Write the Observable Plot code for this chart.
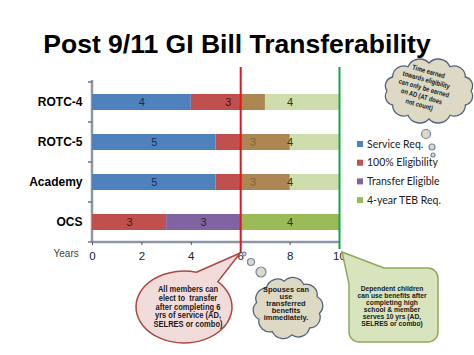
<!DOCTYPE html>
<html><head><meta charset="utf-8">
<script src="https://cdn.jsdelivr.net/npm/d3@7"></script>
<script src="https://cdn.jsdelivr.net/npm/@observablehq/plot@0.6"></script>
<style>body{margin:0;background:#fff} svg{display:block}</style>
</head><body><div id="chart"></div>
<script>
// ---- data ----
const categories = ["ROTC-4", "ROTC-5", "Academy", "OCS"];
const seriesNames = ["Service Req.", "100% Eligibility", "Transfer Eligible", "4-year TEB Req."];
const serviceReq = [4, 5, 5, 0];
const eligibility = [3, 3, 3, 3];
const transferEligible = [0, 0, 0, 3];
const tebStart = [6, 6, 6, 6];
const tebReq = [4, 4, 4, 4];
const xTicks = [0, 2, 4, 6, 8, 10];
const transferYear = 6;
const dependentYear = 10;
const titleText = "Post 9/11 GI Bill Transferability";
const axisLabel = "Years";
const noteTop = ["Time earned", "towards eligibility", "can only be earned", "on AD (AT does", "not count)"];
const noteRed = ["All members can", "elect to  transfer", "after completing 6", "yrs of service (AD,", "SELRES or combo)"];
const noteSpouse = ["Spouses can", "use", "transferred", "benefits", "immediately."];
const noteGreen = ["Dependent children", "can use benefits after", "completing high", "school & member", "serves 10 yrs (AD,", "SELRES or combo)"];

// ---- styles ----
const colors = ["#4f81bd", "#c0504d", "#8064a2", "#9bbb59"];
const labelColors = ["#1b2d4d", "#4a1212", "#2a1e3c", "#2c3a10"];

// ---- build rows ----
const stacked = [];
const stackEnd = [];
categories.forEach((c, i) => {
  let x = 0;
  [serviceReq[i], eligibility[i], transferEligible[i]].forEach((v, k) => {
    if (v > 0) stacked.push({cat: c, series: seriesNames[k], k, x1: x, x2: x + v, value: v});
    x += v;
  });
  stackEnd.push(x);
});
const teb = categories.map((c, i) => ({
  cat: c, series: seriesNames[3], k: 3, x1: tebStart[i], x2: tebStart[i] + tebReq[i], value: tebReq[i],
  overlap: stackEnd[i] > tebStart[i]
}));

const labelMark = (data, k) => Plot.text(data.filter(d => d.k === k), {
  x: d => (d.x1 + d.x2) / 2, y: "cat", text: d => String(d.value),
  fill: labelColors[k], fontSize: 11
});

const chart = Plot.plot({
  width: 474, height: 355,
  marginTop: 82, marginBottom: 113, marginLeft: 92, marginRight: 135,
  style: {fontFamily: "'Liberation Sans', Arial, sans-serif", background: "#fff"},
  x: {domain: [0, 10]},
  y: {domain: categories, paddingInner: 0.6, paddingOuter: 0.3},
  color: {domain: seriesNames, range: colors},
  marks: [
    Plot.barX(stacked, {x1: "x1", x2: "x2", y: "cat", fill: "series"}),
    labelMark(stacked, 0), labelMark(stacked, 1), labelMark(stacked, 2),
    Plot.barX(teb.filter(d => d.overlap), {x1: "x1", x2: "x2", y: "cat", fill: "series", fillOpacity: 0.5}),
    Plot.barX(teb.filter(d => !d.overlap), {x1: "x1", x2: "x2", y: "cat", fill: "series"}),
    labelMark(teb, 3),
    Plot.axisX({ticks: xTicks, tickSize: 3, tickPadding: 6, fontSize: 11.5, fill: "#222", stroke: "#555", label: null}),
    Plot.axisY({tickSize: 0, tickPadding: 10, fontSize: 12, fontWeight: "bold", fill: "#000", label: null}),
    Plot.text([axisLabel], {text: d => d, frameAnchor: "bottom-left", dx: -39, dy: 14, fontSize: 10, fill: "#444"}),
    Plot.ruleX([transferYear], {stroke: "#e3161e", strokeWidth: 2, insetTop: -15, insetBottom: -10}),
    Plot.ruleX([dependentYear], {stroke: "#17a34a", strokeWidth: 2, insetTop: -15, insetBottom: -7})
  ]
});
document.getElementById("chart").appendChild(chart);

const svg = d3.select(chart);
const xs = chart.scale("x"), ys = chart.scale("y");
const x0 = xs.apply(0), x10 = xs.apply(10);
const [yTop, yBot] = ys.range;
const step = ys.step;

// axis lines, drawn underneath the bars
const axisG = svg.insert("g", ":first-child");
axisG.append("line").attr("x1", x0).attr("x2", x10).attr("y1", yBot).attr("y2", yBot)
  .attr("stroke", "#8e97a6").attr("stroke-width", 2.5);
axisG.append("line").attr("x1", x0).attr("x2", x0).attr("y1", yTop - 2).attr("y2", yBot)
  .attr("stroke", "#8e97a6").attr("stroke-width", 2.5);
for (let k = 0; k <= categories.length; k++) {
  const yy = yTop + k * step;
  axisG.append("line").attr("x1", x0 - 4).attr("x2", x0).attr("y1", yy).attr("y2", yy)
    .attr("stroke", "#777").attr("stroke-width", 1.5);
}

// title
svg.append("text").attr("x", 237).attr("y", 53).attr("text-anchor", "middle")
  .attr("font-family", "'Liberation Sans', Arial, sans-serif").attr("font-weight", "bold")
  .attr("font-size", 26.5).attr("fill", "#000").text(titleText);

// legend
const color = chart.scale("color");
const lg = svg.append("g").attr("font-family", "Lato, 'Open Sans', sans-serif").attr("font-size", 10.5)
  .attr("fill", "#222").attr("text-anchor", "start");
seriesNames.forEach((s, i) => {
  const cy = 144 + i * 18.7;
  lg.append("rect").attr("x", 357).attr("y", cy - 3).attr("width", 6).attr("height", 6).attr("fill", color.apply(s));
  lg.append("text").attr("x", 367).attr("y", cy + 3.7).text(s);
});

// helpers
function cloud(cx, cy, rx, ry, n, off) {
  const pts = [];
  for (let i = 0; i < n; i++) {
    const a = i / n * 2 * Math.PI + off;
    pts.push([cx + rx * Math.cos(a), cy + ry * Math.sin(a)]);
  }
  let d = `M${pts[0][0]},${pts[0][1]}`;
  for (let i = 0; i < n; i++) {
    const p = pts[i], q = pts[(i + 1) % n];
    const r = Math.hypot(q[0] - p[0], q[1] - p[1]) * 0.6;
    d += `A${r},${r} 0 0 1 ${q[0]},${q[1]}`;
  }
  return d + "Z";
}
const noteFont = "'Liberation Sans', Arial, sans-serif";
function lines(g, arr, cx, cy0, dy, fs, sx) {
  const t = g.append("g").attr("transform", `translate(${cx},0) scale(${sx},1)`)
    .append("text").attr("text-anchor", "middle").attr("font-family", noteFont)
    .attr("font-size", fs).attr("font-weight", "bold").attr("fill", "#1a1a1a");
  arr.forEach((l, i) => t.append("tspan").attr("x", 0).attr("y", cy0 + i * dy + fs * 0.35).text(l));
}

// top cloud
const cloudFill = "#ddd9c4", cloudStroke = "#55627e";
const gTop = svg.append("g");
gTop.append("path").attr("d", cloud(429, 91, 42, 28, 12, 0.0)).attr("fill", cloudFill).attr("stroke", cloudStroke).attr("stroke-width", 1.3);
[[426, 134, 4.5], [432, 147, 3], [433, 155, 2]].forEach(([cx, cy, r]) =>
  gTop.append("circle").attr("cx", cx).attr("cy", cy).attr("r", r).attr("fill", cloudFill).attr("stroke", "#7386a8").attr("stroke-width", 1.2));
const gTopText = gTop.append("g").attr("transform", "translate(424,88) rotate(16)");
lines(gTopText, noteTop, 0, -17.2, 8.6, 7.2, 0.8);

// red speech bubble
const tx6 = xs.apply(transferYear);
const ecx = 184, ecy = 307, erx = 48, ery = 36;
const ang = a => [ecx + erx * Math.cos(a), ecy + ery * Math.sin(a)];
const b1 = ang(-75 * Math.PI / 180), b2 = ang(-45 * Math.PI / 180);
svg.append("path")
  .attr("d", `M${b1[0]},${b1[1]}L${tx6},253L${b2[0]},${b2[1]}A${erx},${ery} 0 1 1 ${b1[0]},${b1[1]}Z`)
  .attr("fill", "#f2dcdb").attr("stroke", "#a94a47").attr("stroke-width", 1.5);
lines(svg, noteRed, 188, 289.5, 8.6, 8.2, 0.92);

// spouse cloud
const gSp = svg.append("g");
[[tx6 + 4, 254, 1.8], [251, 262, 3.5], [261, 272, 5]].forEach(([cx, cy, r]) =>
  gSp.append("circle").attr("cx", cx).attr("cy", cy).attr("r", r).attr("fill", cloudFill).attr("stroke", "#7386a8").attr("stroke-width", 1.2));
gSp.append("path").attr("d", cloud(288, 308, 32, 27, 10, 0.2)).attr("fill", cloudFill).attr("stroke", cloudStroke).attr("stroke-width", 1.3);
lines(gSp, noteSpouse, 286, 290, 6.9, 6.9, 1.08);

// green callout
const tx10 = xs.apply(dependentYear);
svg.append("path")
  .attr("d", `M${tx10 + 3},252L384,268H428A10,10 0 0 1 438,278V332A10,10 0 0 1 428,342H359A10,10 0 0 1 349,332V284Z`)
  .attr("fill", "#d7e4bd").attr("stroke", "#8fa95a").attr("stroke-width", 1.5);
lines(svg, noteGreen, 392, 288.3, 7, 7, 0.96);
</script></body></html>
